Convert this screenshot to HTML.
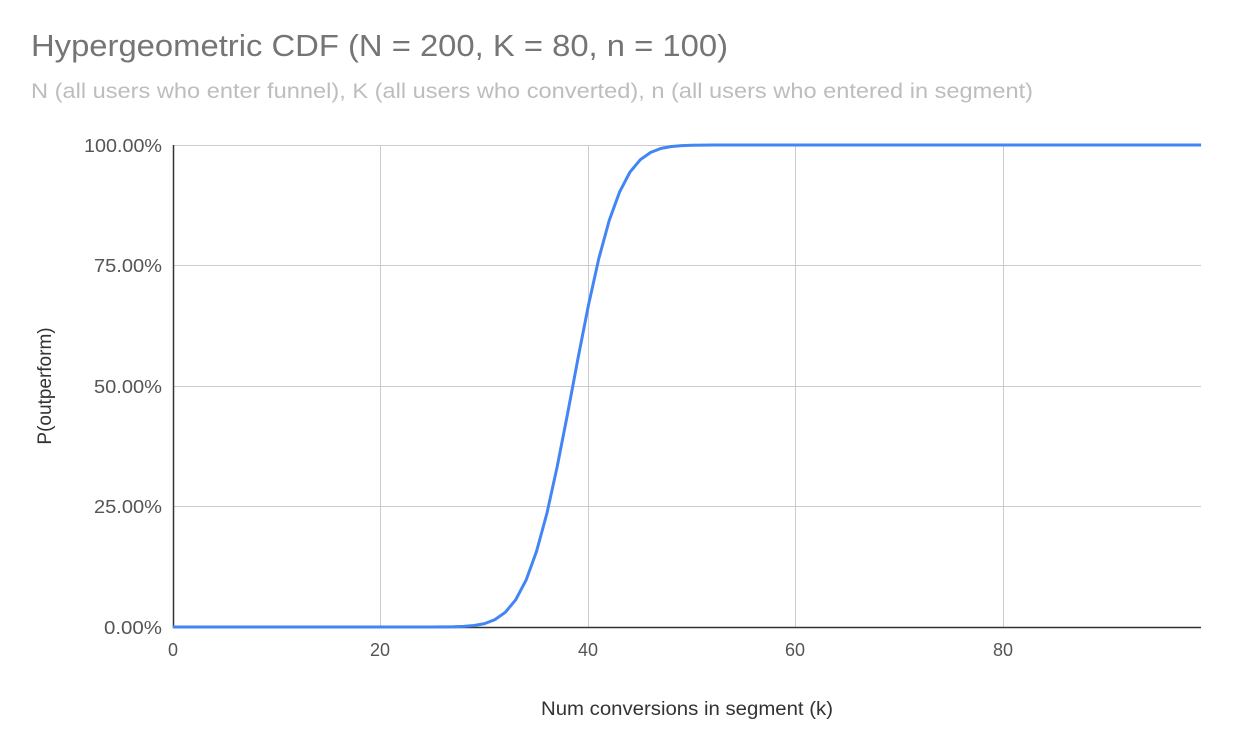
<!DOCTYPE html>
<html><head><meta charset="utf-8"><style>
body{margin:0;background:#fff;width:1242px;height:736px;overflow:hidden;font-family:"Liberation Sans",Arial,sans-serif}
</style></head><body>
<svg id="s" width="1242" height="736" xmlns="http://www.w3.org/2000/svg" font-family="Liberation Sans, Arial, sans-serif">
<text x="31" y="56" font-size="31" fill="#757575" textLength="697" lengthAdjust="spacingAndGlyphs">Hypergeometric CDF (N = 200, K = 80, n = 100)</text>
<text x="31" y="98" font-size="21" fill="#bdbdbd" textLength="1002" lengthAdjust="spacingAndGlyphs">N (all users who enter funnel), K (all users who converted), n (all users who entered in segment)</text>
<g stroke="#cccccc" stroke-width="1">
<line x1="173" x2="1201" y1="145.5" y2="145.5"/>
<line x1="173" x2="1201" y1="265.5" y2="265.5"/>
<line x1="173" x2="1201" y1="386.5" y2="386.5"/>
<line x1="173" x2="1201" y1="506.5" y2="506.5"/>
<line x1="380.5" x2="380.5" y1="145" y2="627"/>
<line x1="588.5" x2="588.5" y1="145" y2="627"/>
<line x1="795.5" x2="795.5" y1="145" y2="627"/>
<line x1="1003.5" x2="1003.5" y1="145" y2="627"/>
</g>
<line x1="173.5" x2="173.5" y1="145" y2="628" stroke="#333" stroke-width="1.5"/>
<line x1="173" x2="1201" y1="627.5" y2="627.5" stroke="#333" stroke-width="1.5"/>
<g font-size="18" fill="#555" text-anchor="end">
<text x="162" y="152" textLength="78" lengthAdjust="spacingAndGlyphs">100.00%</text>
<text x="162" y="272" textLength="68" lengthAdjust="spacingAndGlyphs">75.00%</text>
<text x="162" y="393" textLength="68" lengthAdjust="spacingAndGlyphs">50.00%</text>
<text x="162" y="513" textLength="68" lengthAdjust="spacingAndGlyphs">25.00%</text>
<text x="162" y="634" textLength="58" lengthAdjust="spacingAndGlyphs">0.00%</text>
</g>
<g font-size="18" fill="#555" text-anchor="middle">
<text x="173" y="656">0</text>
<text x="380" y="656">20</text>
<text x="588" y="656">40</text>
<text x="795" y="656">60</text>
<text x="1003" y="656">80</text>
</g>
<text x="687" y="715" font-size="19" fill="#333" text-anchor="middle" textLength="292" lengthAdjust="spacingAndGlyphs">Num conversions in segment (k)</text>
<text transform="translate(51,386) rotate(-90)" font-size="19" fill="#333" text-anchor="middle">P(outperform)</text>
<polyline id="p" fill="none" stroke="#4285f4" stroke-width="3" stroke-linejoin="round" points=""/>
</svg>
<script>
function erf(x){var s=x<0?-1:1;x=Math.abs(x);var t=1/(1+0.3275911*x);var y=1-(((((1.061405429*t-1.453152027)*t)+1.421413741)*t-0.284496736)*t+0.254829592)*t*Math.exp(-x*x);return s*y;}
var pts=[];for(var k=0;k<=99;k++){var p=0.5*(1+erf((k-38.5)/3.47/Math.SQRT2));pts.push((173+k*10.385).toFixed(1)+","+(627-p*482).toFixed(1));}
document.getElementById('p').setAttribute('points',pts.join(' '));
</script>
</body></html>
